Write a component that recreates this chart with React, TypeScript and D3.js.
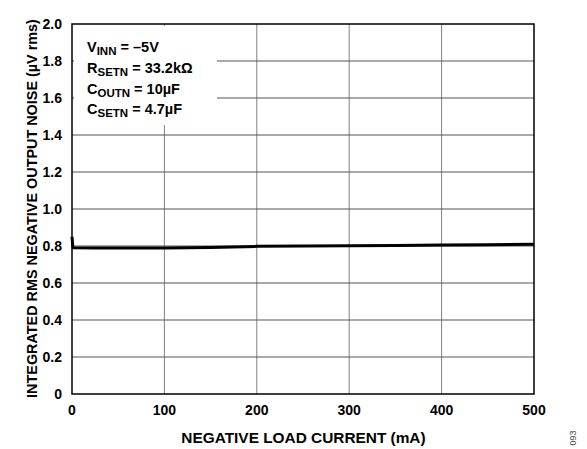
import React, { useEffect, useRef } from 'react';
import * as d3 from 'd3';

// Negative load current (mA) vs integrated RMS noise (µV rms)
const loadCurrent = [0, 1, 25, 50, 100, 150, 200, 250, 300, 350, 400, 450, 500];
const noise = [0.85, 0.79, 0.789, 0.789, 0.789, 0.792, 0.798, 0.8, 0.801, 0.803, 0.805, 0.807, 0.809];

const xTicks = [0, 100, 200, 300, 400, 500];
const yTicks = [0, 0.2, 0.4, 0.6, 0.8, 1.0, 1.2, 1.4, 1.6, 1.8, 2.0];

const legendLines = [
  { main: 'V', sub: 'INN', rest: ' = –5V' },
  { main: 'R', sub: 'SETN', rest: ' = 33.2kΩ' },
  { main: 'C', sub: 'OUTN', rest: ' = 10µF' },
  { main: 'C', sub: 'SETN', rest: ' = 4.7µF' },
];

const W = 587;
const H = 449;
const FONT = '"Liberation Sans", Arial, sans-serif';

const App: React.FC = () => {
  const svgRef = useRef<SVGSVGElement>(null);

  useEffect(() => {
    if (!svgRef.current) return;
    const svg = d3.select(svgRef.current);
    svg.selectAll('*').remove();

    const left = 72, right = 534, top = 24, bottom = 394;
    const x = d3.scaleLinear().domain([0, 500]).range([left, right]);
    const y = d3.scaleLinear().domain([0, 2]).range([bottom, top]);

    svg.append('rect').attr('width', W).attr('height', H).attr('fill', '#fff');

    // grid
    const grid = svg.append('g');
    grid.selectAll('.vg')
      .data(xTicks.slice(1, -1))
      .enter().append('line')
      .attr('x1', d => x(d)).attr('x2', d => x(d))
      .attr('y1', top).attr('y2', bottom)
      .attr('stroke', '#808080').attr('stroke-width', 1);
    grid.selectAll('.hg')
      .data(yTicks.slice(1, -1))
      .enter().append('line')
      .attr('x1', left).attr('x2', right)
      .attr('y1', d => y(d)).attr('y2', d => y(d))
      .attr('stroke', '#555').attr('stroke-width', 1);

    // legend background
    svg.append('rect')
      .attr('x', left + 2).attr('y', top + 2)
      .attr('width', 143).attr('height', 99)
      .attr('fill', '#fff');

    const legend = svg.append('g')
      .attr('font-family', FONT).attr('font-weight', 'bold')
      .attr('font-size', 14.5).attr('fill', '#000');
    legendLines.forEach((l, i) => {
      const t = legend.append('text').attr('x', 87).attr('y', 52 + i * 20.8);
      t.append('tspan').text(l.main);
      t.append('tspan').attr('font-size', 11.5).attr('dy', 3).text(l.sub);
      t.append('tspan').attr('dy', -3).text(l.rest);
    });

    // frame
    svg.append('rect')
      .attr('x', left).attr('y', top)
      .attr('width', right - left).attr('height', bottom - top)
      .attr('fill', 'none').attr('stroke', '#000').attr('stroke-width', 1.5);

    // data line
    const line = d3.line<number>()
      .x((_, i) => x(loadCurrent[i]))
      .y(d => y(d));
    svg.append('path')
      .datum(noise)
      .attr('d', line)
      .attr('fill', 'none')
      .attr('stroke', '#000')
      .attr('stroke-width', 3)
      .attr('stroke-linejoin', 'round');

    const labels = svg.append('g')
      .attr('font-family', FONT).attr('font-weight', 'bold')
      .attr('font-size', 14).attr('fill', '#000');

    labels.selectAll('.yt')
      .data(yTicks)
      .enter().append('text')
      .attr('x', 62).attr('y', d => y(d) + 5)
      .attr('text-anchor', 'end')
      .text(d => (d === 0 ? '0' : d.toFixed(1)));

    labels.selectAll('.xt')
      .data(xTicks)
      .enter().append('text')
      .attr('x', d => x(d)).attr('y', 415)
      .attr('text-anchor', 'middle')
      .text(d => String(d));

    labels.append('text')
      .attr('x', 303.5).attr('y', 443)
      .attr('text-anchor', 'middle')
      .attr('font-size', 15.4)
      .text('NEGATIVE LOAD CURRENT (mA)');

    labels.append('text')
      .attr('transform', `translate(37,208.5) rotate(-90)`)
      .attr('text-anchor', 'middle')
      .attr('font-size', 14.4)
      .text('INTEGRATED RMS NEGATIVE OUTPUT NOISE (µV rms)');

    svg.append('text')
      .attr('transform', 'translate(576,438) rotate(-90)')
      .attr('text-anchor', 'middle')
      .attr('font-family', FONT).attr('font-size', 9).attr('fill', '#444')
      .text('093');
  }, []);

  return (
    <svg
      ref={svgRef}
      width={W}
      height={H}
      viewBox={`0 0 ${W} ${H}`}
      style={{ position: 'absolute', left: 0, top: 0, display: 'block' }}
    />
  );
};

export default App;
